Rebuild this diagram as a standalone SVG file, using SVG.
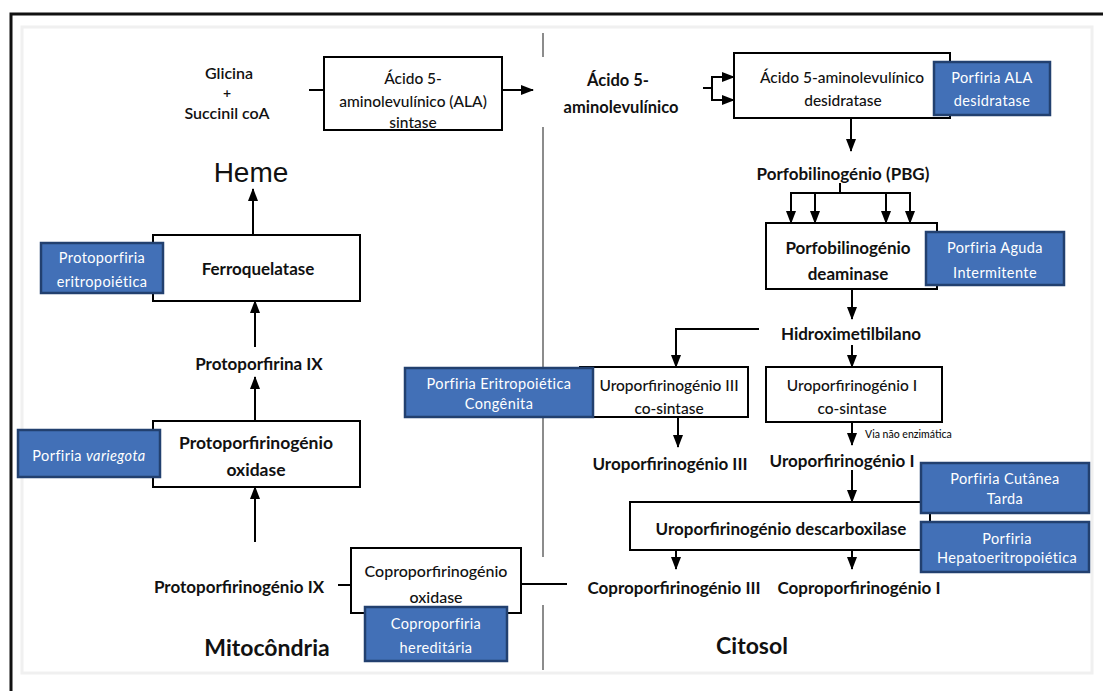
<svg xmlns="http://www.w3.org/2000/svg" width="1103" height="691" viewBox="0 0 1103 691">
<defs>
<marker id="ah" markerUnits="userSpaceOnUse" markerWidth="13" markerHeight="10" refX="12" refY="5" orient="auto">
<path d="M0,0 L13,5 L0,10 z" fill="#000"/>
</marker>
<style>
text{font-family:Lato,"Open Sans","Liberation Sans",sans-serif;fill:#111;text-anchor:middle;dominant-baseline:central}
.n{font-size:17px;font-weight:700}
.e{font-size:15.5px;font-weight:500}
.b{font-size:14.5px;font-weight:400;fill:#fff;letter-spacing:0.4px}
.box{fill:#fff;stroke:#000;stroke-width:2}
.blue{fill:#4270b7;stroke:#22406f;stroke-width:2.5}
.c{fill:none;stroke:#000;stroke-width:2}
.a{fill:none;stroke:#000;stroke-width:2;marker-end:url(#ah)}
.div{stroke:#8c8c8c;stroke-width:2}
</style>
</defs>
<rect width="1103" height="691" fill="#fff"/>
<rect x="22" y="27" width="1070" height="646" fill="none" stroke="#f0f0f0" stroke-width="3"/>
<path d="M11,691 V14 H1103" fill="none" stroke="#111" stroke-width="3"/>
<g id="divider">
<line class="div" x1="543" y1="33" x2="543" y2="57"/>
<line class="div" x1="543" y1="127" x2="543" y2="557"/>
<line class="div" x1="543" y1="605" x2="543" y2="670"/>
</g>

<g id="connectors">
<line class="c" x1="309" y1="90" x2="324" y2="90"/>
<line class="a" x1="502" y1="90" x2="533" y2="90"/>
<line class="c" x1="703" y1="88" x2="712" y2="88"/>
<line class="c" x1="712" y1="76" x2="712" y2="101"/>
<line class="a" x1="711" y1="77" x2="734" y2="77"/>
<line class="a" x1="711" y1="100" x2="734" y2="100"/>
<line class="a" x1="851" y1="118" x2="851" y2="151"/>
<line class="c" x1="840" y1="183" x2="840" y2="193"/>
<line class="c" x1="790" y1="193" x2="911" y2="193"/>
<line class="a" x1="791" y1="192" x2="791" y2="223"/>
<line class="a" x1="815" y1="192" x2="815" y2="223"/>
<line class="a" x1="886" y1="192" x2="886" y2="223"/>
<line class="a" x1="910" y1="192" x2="910" y2="223"/>
<line class="a" x1="852" y1="289" x2="852" y2="319"/>
<polyline class="a" points="759,329 676,329 676,367"/>
<line class="a" x1="852" y1="345" x2="852" y2="367"/>
<line class="a" x1="678" y1="417" x2="678" y2="447"/>
<line class="a" x1="852" y1="422" x2="852" y2="445"/>
<line class="a" x1="852" y1="470" x2="852" y2="502"/>
<line class="a" x1="676" y1="550" x2="676" y2="569"/>
<line class="a" x1="852" y1="550" x2="852" y2="569"/>
<line class="c" x1="521" y1="584" x2="567" y2="584"/>
<line class="c" x1="338" y1="585" x2="351" y2="585"/>
<line class="a" x1="255" y1="542" x2="255" y2="487"/>
<line class="a" x1="255" y1="421" x2="255" y2="377"/>
<line class="a" x1="255" y1="347" x2="255" y2="301"/>
<line class="a" x1="253" y1="234" x2="253" y2="189"/>
</g>

<g id="glicina">
<text x="229" y="72" style="font-size:16px;font-weight:600">Glicina</text>
<text x="227" y="92" style="font-size:14px;font-weight:600">+</text>
<text x="227" y="112" style="font-size:16px;font-weight:600">Succinil coA</text>
</g>
<g id="ala-sintase">
<rect class="box" x="324" y="57" width="178" height="73"/>
<text class="e" x="413" y="78">Ácido 5-</text>
<text class="e" x="413" y="101">aminolevulínico (ALA)</text>
<text class="e" x="413" y="122">sintase</text>
</g>
<g id="heme">
<text x="251" y="172" style="font-family:'Liberation Sans',Arial,sans-serif;font-size:28px">Heme</text>
</g>
<g id="ferroquelatase">
<rect class="box" x="153" y="235" width="207" height="66"/>
<text class="n" x="258" y="268">Ferroquelatase</text>
</g>
<g id="protoporfiria-eritropoietica">
<rect class="blue" x="41" y="243" width="122" height="50"/>
<text class="b" x="102" y="257">Protoporfiria</text>
<text class="b" x="102" y="281">eritropoiética</text>
</g>
<g id="protoporfirina-ix">
<text class="n" x="259" y="363">Protoporfirina IX</text>
</g>
<g id="protoporfirinogenio-oxidase">
<rect class="box" x="153" y="421" width="207" height="66"/>
<text class="n" x="256" y="442" style="font-size:17.5px">Protoporfirinogénio</text>
<text class="n" x="256" y="469" style="font-size:17.5px">oxidase</text>
</g>
<g id="porfiria-variegota">
<rect class="blue" x="18" y="430" width="142" height="47"/>
<text class="b" x="89" y="455">Porfiria <tspan font-style="italic">variegota</tspan></text>
</g>
<g id="protoporfirinogenio-ix">
<text class="n" x="239" y="586">Protoporfirinogénio IX</text>
</g>
<g id="coproporfirinogenio-oxidase">
<rect class="box" x="351" y="548" width="170" height="65"/>
<text class="e" x="436" y="570" style="font-size:16px">Coproporfirinogénio</text>
<text class="e" x="436" y="596" style="font-size:16px">oxidase</text>
</g>
<g id="coproporfiria-hereditaria">
<rect class="blue" x="365" y="607" width="142" height="54"/>
<text class="b" x="436" y="623">Coproporfiria</text>
<text class="b" x="436" y="647">hereditária</text>
</g>
<g id="mitocondria">
<text x="267" y="647" style="font-size:23px;font-weight:700">Mitocôndria</text>
</g>

<g id="ala">
<text x="618" y="80" style="font-size:16.5px;font-weight:700">Ácido 5-</text>
<text x="621" y="107" style="font-size:16.5px;font-weight:700">aminolevulínico</text>
</g>
<g id="ala-desidratase">
<rect class="box" x="734" y="53" width="216" height="65"/>
<text class="e" x="842" y="77">Ácido 5-aminolevulínico</text>
<text class="e" x="843" y="100">desidratase</text>
</g>
<g id="porfiria-ala-desidratase">
<rect class="blue" x="934" y="62" width="116" height="53"/>
<text class="b" x="992" y="77">Porfiria ALA</text>
<text class="b" x="992" y="100">desidratase</text>
</g>
<g id="pbg">
<text class="n" x="843" y="173">Porfobilinogénio (PBG)</text>
</g>
<g id="pbg-deaminase">
<rect class="box" x="766" y="223" width="171" height="66"/>
<text class="n" x="848" y="247">Porfobilinogénio</text>
<text class="n" x="848" y="273">deaminase</text>
</g>
<g id="porfiria-aguda-intermitente">
<rect class="blue" x="926" y="232" width="138" height="53"/>
<text class="b" x="995" y="247">Porfiria Aguda</text>
<text class="b" x="995" y="272">Intermitente</text>
</g>
<g id="hidroximetilbilano">
<text class="n" x="851" y="333">Hidroximetilbilano</text>
</g>
<g id="uro3-cosintase">
<rect class="box" x="580" y="367" width="168" height="50"/>
<text class="e" x="669" y="385">Uroporfirinogénio III</text>
<text class="e" x="669" y="408">co-sintase</text>
</g>
<g id="porfiria-eritropoietica-congenita">
<rect class="blue" x="405" y="368" width="188" height="49"/>
<text class="b" x="499" y="383">Porfiria Eritropoiética</text>
<text class="b" x="499" y="403">Congênita</text>
</g>
<g id="uro1-cosintase">
<rect class="box" x="766" y="367" width="176" height="55"/>
<text class="e" x="852" y="385">Uroporfirinogénio I</text>
<text class="e" x="852" y="408">co-sintase</text>
</g>
<g id="via-nao-enzimatica">
<text x="865" y="434" style="font-size:10.5px;font-weight:500;text-anchor:start">Via não enzimática</text>
</g>
<g id="uro3">
<text class="n" x="670" y="463">Uroporfirinogénio III</text>
</g>
<g id="uro1">
<text class="n" x="842" y="460">Uroporfirinogénio I</text>
</g>
<g id="uro-descarboxilase">
<rect class="box" x="630" y="502" width="300" height="48"/>
<text class="n" x="781" y="528">Uroporfirinogénio descarboxilase</text>
</g>
<g id="porfiria-cutanea-tarda">
<rect class="blue" x="921" y="463" width="168" height="50"/>
<text class="b" x="1005" y="478">Porfiria Cutânea</text>
<text class="b" x="1005" y="498">Tarda</text>
</g>
<g id="porfiria-hepatoeritropoietica">
<rect class="blue" x="921" y="522" width="168" height="50"/>
<text class="b" x="1007" y="538">Porfiria</text>
<text class="b" x="1007" y="557">Hepatoeritropoiética</text>
</g>
<g id="copro3">
<text class="n" x="674" y="587">Coproporfirinogénio III</text>
</g>
<g id="copro1">
<text class="n" x="859" y="587">Coproporfirinogénio I</text>
</g>
<g id="citosol">
<text x="752" y="645" style="font-size:23px;font-weight:700">Citosol</text>
</g>
</svg>
